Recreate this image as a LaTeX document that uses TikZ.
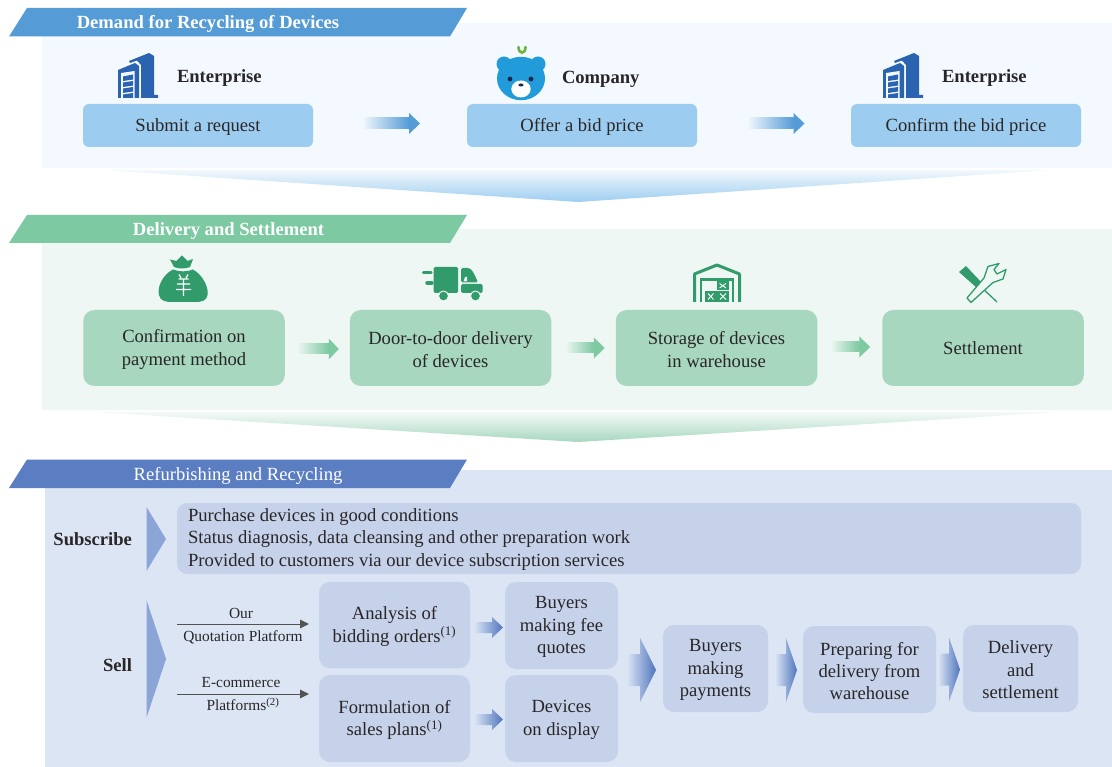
\documentclass[tikz,border=0pt]{standalone}
\usepackage{fontspec}
\setmainfont{Liberation Serif}
\usetikzlibrary{calc,arrows.meta}
\definecolor{ink}{HTML}{2A2627}
\definecolor{blueA}{HTML}{559BD6}\definecolor{blueBg}{HTML}{F3F9FE}\definecolor{blueBox}{HTML}{9CCDF0}
\definecolor{greenA}{HTML}{7CC9A2}\definecolor{greenBg}{HTML}{EEF7F4}\definecolor{greenBox}{HTML}{A7D7BF}\definecolor{greenIcon}{HTML}{319B6B}
\definecolor{navyA}{HTML}{5B7EC2}\definecolor{navyBg}{HTML}{DBE5F4}\definecolor{navyBox}{HTML}{C5D2EA}\definecolor{navyTri}{HTML}{8CA5D7}\definecolor{navyTip}{HTML}{4F75BE}
\definecolor{bldg}{HTML}{2A63B0}\definecolor{bear}{HTML}{229BDB}\definecolor{bearDark}{HTML}{12294A}\definecolor{sprout}{HTML}{6DB33F}
\newcommand{\txtsize}{\fontsize{18.6}{22.4}\selectfont}
\tikzset{
  x=1pt,y=-1pt,
  every node/.style={inner sep=0pt,outer sep=0pt,text=ink,font=\txtsize},
  bluebox/.style={rounded corners=6pt,fill=blueBox,minimum width=230pt,minimum height=43pt},
  greenbox/.style={rounded corners=11pt,fill=greenBox,minimum width=201.5pt,minimum height=76pt},
  navybox/.style={rounded corners=11pt,fill=navyBox},
  bannertext/.style={text=white},
  headlabel/.style={anchor=west,font=\txtsize\bfseries},
  sidelabel/.style={anchor=east,font=\txtsize\bfseries},
  sublabel/.style={font=\fontsize{15.4}{17}\selectfont},
  subline/.style={anchor=west},
  platformline/.style={draw=black!68,line width=1pt,-{Triangle[length=9pt,width=8.5pt]}},
}
% box node with its text placed a little below the centre: style, name, position, dy, text
\newcommand{\bx}[5]{\node[#1] (#2) at #3 {}; \node[align=center] (#2t) at ($(#2.center)+(0,#4)$) {#5};}
% #1 from node, #2 to node, #3 tail gap, #4 tip gap, #5 dy (from the target's west anchor), #6 head length, #7 half shaft, #8 half head, #9 colours
\newcommand{\solidarrow}[9]{%
  \coordinate (T) at ($(#1.east |- #2.west)+(#3,#5)$);
  \coordinate (P) at ($(#2.west)+(-#4,#5)$);
  \coordinate (H) at ($(P)+(-#6,0)$);
  \expandafter\splitcols#9\relax
  \shade[left color=\colA,right color=\colB] ($(T)+(0,-#7)$) -- ($(H)+(0,-#7)$) -- ($(H)+(0,#7)$) -- ($(T)+(0,#7)$) -- cycle;
  \fill[\colB] ($(H)+(0,-#8)$) -- (P) -- ($(H)+(0,#8)$) -- cycle;
}
\newcommand{\wholearrow}[9]{%
  \coordinate (T) at ($(#1.east |- #2.west)+(#3,#5)$);
  \coordinate (P) at ($(#2.west)+(-#4,#5)$);
  \coordinate (H) at ($(P)+(-#6,0)$);
  \expandafter\splitcols#9\relax
  \shade[left color=\colA,right color=\colB] ($(T)+(0,-#7)$) -- ($(H)+(0,-#7)$) -- ($(H)+(0,-#8)$) -- (P) -- ($(H)+(0,#8)$) -- ($(H)+(0,#7)$) -- ($(T)+(0,#7)$) -- cycle;
}
\def\splitcols#1/#2\relax{\def\colA{#1}\def\colB{#2}}
\newcommand{\bldgicon}[1]{%
  \begin{scope}[shift={(#1,0)}]
    \fill[bldg] (118,98) -- (118,70) -- (135,63) -- (139,66) -- (139,98) -- cycle;
    \fill[blueBg] (121,73) -- (134.5,71) -- (134.5,98) -- (121,98) -- cycle;
    \fill[bldg] (123,76.5) -- (133,74.5) -- (133,79.5) -- (123,81) -- cycle;
    \fill[bldg] (123,82.5) -- (133,81) -- (133,85.5) -- (123,87) -- cycle;
    \fill[bldg] (123,88.5) -- (133,87) -- (133,91.5) -- (123,93) -- cycle;
    \fill[bldg] (123,94.5) -- (133,93) -- (133,98) -- (123,98) -- cycle;
    \fill[bldg] (129,61) -- (149,53) -- (154,56) -- (154,95) -- (158,95) -- (158,98) -- (141,98) -- (141,65) -- (137,60.5) -- (130,63) -- cycle;
  \end{scope}}
\begin{document}
\begin{tikzpicture}
\useasboundingbox (0,0) rectangle (1112,767);
\fill[white] (0,0) rectangle (1112,767);
% backgrounds
\fill[blueBg] (42,23) rectangle (1112,168);
\fill[greenBg] (42,229) rectangle (1112,410);
\fill[navyBg] (45,470) rectangle (1112,767);
% banners
\fill[blueA] (9,36.5) -- (27,8) -- (467,8) -- (450,36.5) -- cycle;
\fill[greenA] (9,243) -- (27,215) -- (467,215) -- (450,243) -- cycle;
\fill[navyA] (9,488) -- (27,459.5) -- (467,459.5) -- (450,488) -- cycle;
\node[bannertext,font=\txtsize\bfseries] (h1) at (208,24.5) {Demand for Recycling of Devices};
\node[bannertext,font=\txtsize\bfseries] (h2) at (228.5,231) {Delivery and Settlement};
\node[bannertext] (h3) at (238,475.5) {Refurbishing and Recycling};
% wedges
\shade[top color=blueBox!12,bottom color=blueBox] (105,170) -- (1050,170) -- (578,202) -- cycle;
\shade[top color=greenBox!12,bottom color=greenBox] (95,412) -- (1060,412) -- (578,442) -- cycle;
% section 1
\bx{bluebox}{submit}{(198,125.5)}{1.5}{Submit a request}
\bx{bluebox}{offer}{(582,125.5)}{1.5}{Offer a bid price}
\bx{bluebox}{confirm}{(966,125.5)}{1.5}{Confirm the bid price}
\node[headlabel] (ent1) at (177,78.5) {Enterprise};
\node[headlabel] (comp) at (562,79) {Company};
\node[headlabel] (ent2) at (942,78.5) {Enterprise};
\solidarrow{submit}{offer}{49}{47}{-2}{11}{5.5}{10.5}{blueBg/blueA}
\solidarrow{offer}{confirm}{50}{46.5}{-2}{11}{5.5}{10.5}{blueBg/blueA}
\bldgicon{0}
\bldgicon{765}
% bear
\draw[sprout,line width=2.6pt,line cap=round] (518.5,47) .. controls (518.5,54.5) and (525.5,54.5) .. (525.5,47);
\fill[bear] (504,64) circle (7.5);
\fill[bear] (538,64) circle (7.5);
\fill[bear] (521,78.5) ellipse (24 and 21.7);
\fill[white] (521,89) ellipse (9.7 and 8.5);
\fill[bearDark] (510,79) circle (2.4);
\fill[bearDark] (531,79) circle (2.4);
\fill[bearDark] (521,85) ellipse (2.6 and 1.5);
% section 2
\bx{greenbox}{pay}{(184,348)}{1.5}{Confirmation on\\payment method}
\bx{greenbox}{door}{(450.5,348)}{1.5}{Door-to-door delivery\\of devices}
\bx{greenbox}{store}{(716.5,348)}{1.5}{Storage of devices\\in warehouse}
\bx{greenbox}{settle}{(983,348)}{0}{Settlement}
\solidarrow{pay}{door}{12}{11}{1}{10}{5}{10.5}{greenBg/greenA}
\solidarrow{door}{store}{14}{11}{0}{11}{5}{10.5}{greenBg/greenA}
\solidarrow{store}{settle}{13}{12}{-1}{11}{5}{10.5}{greenBg/greenA}
% money bag
\fill[greenIcon] (173,269.5) .. controls (162,275) and (157,288) .. (159,295) .. controls (160,301) and (166,302) .. (172,302) -- (195,302) .. controls (201,302) and (207,301) .. (207.5,295) .. controls (209,288) and (203,275) .. (193,269.5) .. controls (187,272) and (179,272) .. (173,269.5) -- cycle;
\fill[greenIcon] (174,267) -- (170,259.5) -- (176.5,261) -- (182,255.5) -- (187.5,261) -- (193,259) -- (190,267) .. controls (185,269) and (179,269) .. (174,267) -- cycle;
\draw[white,line width=1.2pt] (177,284) -- (190,284) (178.5,279) -- (188.5,279) (176,289.5) -- (191,289.5) (183.5,279) -- (183.5,296) (179,274.5) -- (181,278) (188,274.5) -- (186,278);
% truck
\fill[greenIcon,rounded corners=1.5pt] (433.5,267) rectangle (458,293);
\fill[greenIcon,rounded corners=1.5pt] (461,268) -- (466,268) .. controls (471,268) and (473,271) .. (478,282.5) -- (461,282.5) -- cycle;
\fill[greenIcon,rounded corners=1.5pt] (461,284) -- (482.5,284) -- (482.5,293) -- (461,293) -- cycle;
\fill[greenBg] (465,277) -- (467,277) -- (467,281.5) -- (463.5,281.5) -- cycle;
\draw[greenIcon,line width=3.4pt,line cap=round] (423.5,272.5) -- (431,272.5) (427,283) -- (432,283);
\foreach \wx in {443.5,475.5}{\fill[greenIcon,draw=greenBg,line width=1pt] (\wx,296) circle (5);}
% warehouse
\draw[greenIcon,line width=3pt,line join=round] (694.5,302) -- (694.5,274) -- (717,265) -- (739.5,274) -- (739.5,302);
\draw[greenIcon,line width=2.4pt] (701,302) -- (701,279.5) -- (733,279.5) -- (733,302);
\foreach \cxa/\cya/\cxb/\cyb in {705/291/716.5/302,717/291/729/302,716.5/281/729/290.5}{
  \fill[greenIcon] (\cxa,\cya) rectangle (\cxb,\cyb);
  \draw[white,line width=.9pt] ($(\cxa,\cya)+(3,2.5)$) -- ($(\cxb,\cyb)+(-3,-2.5)$) ($(\cxa,\cyb)+(3,-2.5)$) -- ($(\cxb,\cya)+(-3,2.5)$);
}
% tools
\fill[greenIcon] (959,272) -- (966,266) -- (982,283) -- (977,288) -- cycle;
\draw[greenIcon,line width=1.3pt] (981,287) -- (997,302);
\draw[greenIcon,line width=1.3pt,line join=round,fill=greenBg] (967,298) -- (971,302.5) -- (993,282.5) -- (1003,279) -- (1006,269.5) -- (997,274) -- (994,269.5) -- (999,263.5) -- (988,266.5) -- (984,278) -- cycle;
% section 3
\node[navybox,rounded corners=10pt,minimum width=904pt,minimum height=71pt] (sub) at (629,538.5) {};
\node[subline] (s1) at (188,517.5) {Purchase devices in good conditions};
\node[subline] (s2) at (188,539.5) {Status diagnosis, data cleansing and other preparation work};
\node[subline] (s3) at (188,562.5) {Provided to customers via our device subscription services};
\node[sidelabel] (lsub) at (132,539.5) {Subscribe};
\node[sidelabel] (lsell) at (132,665.5) {Sell};
\fill[navyTri] (146.5,507) -- (166,539) -- (146.5,571) -- cycle;
\fill[navyTri] (146.5,600) -- (166,659) -- (146.5,717.5) -- cycle;
\bx{navybox,minimum width=151pt,minimum height=86.5pt}{ana}{(394.5,625)}{1.5}{Analysis of\\bidding orders\textsuperscript{(1)}}
\bx{navybox,minimum width=113pt,minimum height=87pt}{fee}{(561.5,625.5)}{1.5}{Buyers\\making fee\\quotes}
\bx{navybox,minimum width=151pt,minimum height=87pt}{form}{(394.5,718.5)}{1.5}{Formulation of\\sales plans\textsuperscript{(1)}}
\bx{navybox,minimum width=113pt,minimum height=87pt}{disp}{(561.5,718.5)}{1.5}{Devices\\on display}
\bx{navybox,minimum width=105pt,minimum height=87pt}{pays}{(715.5,668.5)}{1.5}{Buyers\\making\\payments}
\bx{navybox,minimum width=133pt,minimum height=87pt}{prep}{(869.5,669.5)}{1.5}{Preparing for\\delivery from\\warehouse}
\bx{navybox,minimum width=115pt,minimum height=87pt}{deliv}{(1020.5,668.5)}{1.5}{Delivery\\and\\settlement}
\coordinate (ourA) at (177,624);
\coordinate (ourB) at (309,624);
\coordinate (ecoA) at (177,694);
\coordinate (ecoB) at (309,694);
\draw[platformline] (ourA) -- (ourB);
\draw[platformline] (ecoA) -- (ecoB);
\node[sublabel] (t1) at (241,613.5) {Our};
\node[sublabel] (t2) at (243,637) {Quotation Platform};
\node[sublabel] (t3) at (241,682.5) {E-commerce};
\node[sublabel] (t4) at (243,704.5) {Platforms\textsuperscript{(2)}};
\wholearrow{ana}{fee}{4}{2}{2}{11}{5.5}{10.5}{navyBg/navyTip}
\wholearrow{form}{disp}{4}{2}{1}{11}{5.5}{10.5}{navyBg/navyTip}
\wholearrow{fee}{pays}{9}{7}{1.5}{16}{16}{32}{navyBg/navyTip}
\wholearrow{pays}{prep}{7}{6}{0.5}{11}{16}{32}{navyBg/navyTip}
\wholearrow{prep}{deliv}{2}{3}{1}{11}{16}{32}{navyBg/navyTip}
\end{tikzpicture}
\end{document}
